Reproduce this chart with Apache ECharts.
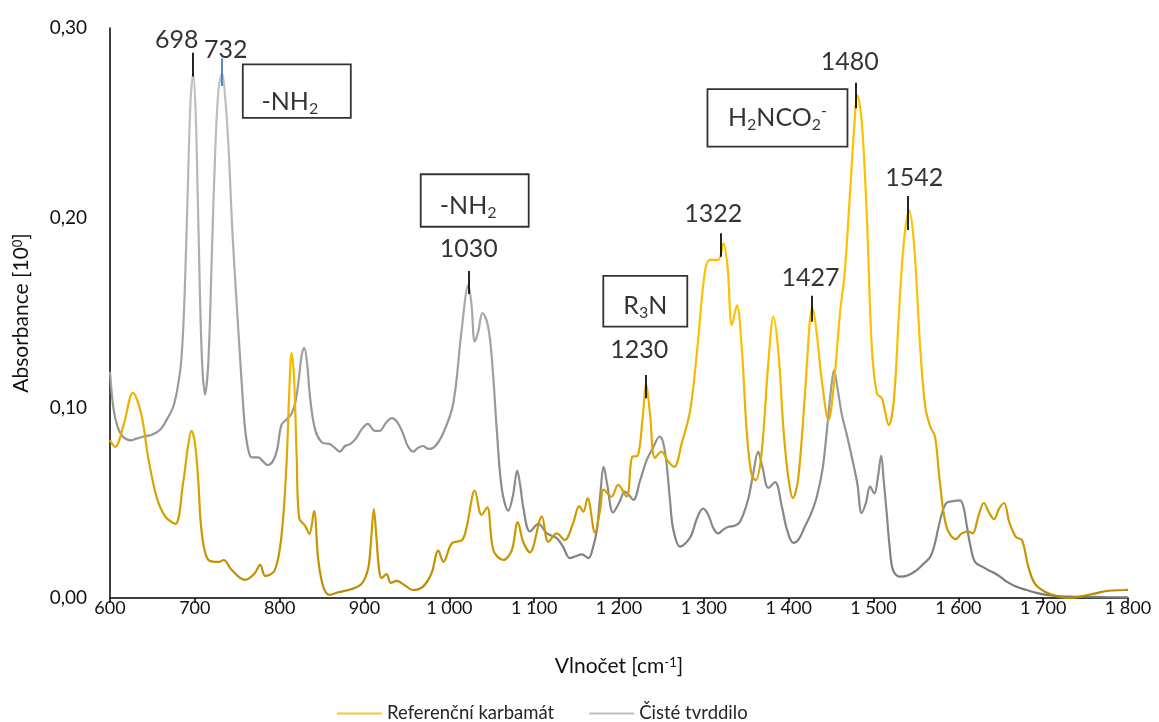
<!DOCTYPE html>
<html><head><meta charset="utf-8">
<script src="https://cdn.jsdelivr.net/npm/echarts@6/dist/echarts.min.js"></script>
<style>html,body{margin:0;padding:0;background:#fff}#c{width:1159px;height:722px}</style>
</head><body><div id="c"></div>
<script>
// ---- Data ----
const seriesNames = ['Referenční karbamát', 'Čisté tvrddilo'];

const refWavenumbers = [600,606,616,627,637,645,655,665,677,686,692,696,700,704,708,716,728,734,743,759,770,777,783,794,802,808,811,814,817,820,823,830,835,840.5,845.5,851.5,859,869,885,897,904.5,908,911,914,917,920,926,931,938,948,957,969,979,987,993,1003,1015,1020.5,1030,1038,1044.7,1052,1063.6,1073.5,1080.6,1087,1095,1109,1116.7,1126.6,1136,1146,1153,1158,1163,1171.7,1177.6,1182,1191,1199,1209,1215.7,1221.6,1228,1232,1236.5,1242.4,1250,1258,1265,1274,1284,1292,1301,1307,1317,1323,1328,1333,1339,1344.6,1350.5,1356,1361,1368,1376,1382,1388,1394,1400,1405,1411,1419,1425,1428,1433,1439,1447,1453,1460.5,1466,1472,1477,1481,1486,1492,1498,1504,1510,1518,1524,1530,1536,1542,1548,1555,1561,1567,1572.5,1578,1586,1597,1604,1612,1617,1623.5,1630,1636.5,1642,1648,1654,1660,1668,1675,1682.5,1690,1702,1716,1732,1747,1763,1775,1796,1800];
const refAbsorbance = [0.083,0.0795,0.091,0.108,0.0965,0.074,0.053,0.043,0.039,0.060,0.080,0.088,0.082,0.062,0.035,0.020,0.019,0.020,0.015,0.0095,0.0126,0.0174,0.0116,0.0144,0.032,0.070,0.105,0.129,0.115,0.075,0.042,0.038,0.0337,0.0458,0.020,0.0058,0.0016,0.003,0.0047,0.0077,0.016,0.032,0.0468,0.032,0.016,0.0105,0.0126,0.0079,0.009,0.0065,0.0042,0.006,0.013,0.025,0.019,0.0288,0.0305,0.0375,0.0565,0.0437,0.0477,0.025,0.020,0.025,0.040,0.0296,0.024,0.0428,0.0296,0.034,0.0305,0.0395,0.0484,0.0454,0.0526,0.0344,0.046,0.057,0.0533,0.0595,0.0533,0.0744,0.0747,0.0954,0.1126,0.097,0.0737,0.077,0.0718,0.069,0.0815,0.099,0.130,0.171,0.178,0.178,0.1867,0.174,0.1437,0.154,0.132,0.088,0.0656,0.062,0.076,0.1237,0.148,0.129,0.088,0.062,0.0526,0.062,0.106,0.146,0.1526,0.1395,0.1147,0.0937,0.111,0.150,0.171,0.211,0.246,0.2647,0.2516,0.2025,0.132,0.1077,0.105,0.091,0.104,0.150,0.1884,0.204,0.185,0.132,0.1007,0.090,0.085,0.062,0.0375,0.031,0.034,0.035,0.034,0.0428,0.050,0.0447,0.0415,0.047,0.050,0.040,0.032,0.0305,0.0165,0.0077,0.0033,0.001,0.0,0.001,0.0026,0.0037,0.0042,0.0043];

const hardWavenumbers = [600,604,609,615,624,632,640,650,660,667,674,679,684,688,692,695,698,701,704,708,712,716,720,724,728,732,736,740,744,750,755,759,763,767,775,780,786,792,797,802,808,814,819,823,826,829,832,836,841.6,849.5,859,865,871,877,883,890,897,904,912,918,925,932,938,945,951,957.5,963,969,975,981,993,1004.7,1014.5,1022.4,1026,1030,1034,1039,1044,1048,1052,1056,1062,1069.5,1075,1080,1084,1087,1095,1105,1115,1126.6,1134,1142,1149,1156,1164,1169,1174,1178,1182,1186,1193,1200,1207,1212,1217,1225,1232.6,1240,1248,1252,1256,1260,1264,1272,1284,1292,1299,1305,1311,1317,1323,1329,1336,1342.6,1352,1358,1364,1369,1376,1384,1392,1398,1405.5,1412,1419,1426,1433,1440,1445,1450,1453.5,1457,1462.5,1469,1476,1481,1486,1491,1496,1501,1505,1509,1512,1515.5,1519,1523,1531,1541,1551,1559,1567,1572,1576,1581,1586,1594,1602,1606,1610,1614,1619.6,1629.5,1636,1643,1650,1657,1668,1680.6,1692,1704,1720,1735,1760,1780,1800];
const hardAbsorbance = [0.119,0.100,0.090,0.085,0.083,0.084,0.085,0.086,0.089,0.094,0.100,0.109,0.125,0.160,0.220,0.262,0.276,0.255,0.200,0.130,0.107,0.125,0.180,0.235,0.268,0.276,0.262,0.235,0.195,0.150,0.115,0.090,0.078,0.074,0.074,0.072,0.070,0.072,0.078,0.091,0.094,0.097,0.104,0.117,0.128,0.1316,0.125,0.105,0.089,0.082,0.081,0.079,0.077,0.080,0.081,0.084,0.089,0.0916,0.088,0.088,0.092,0.0947,0.093,0.087,0.080,0.077,0.079,0.080,0.0785,0.079,0.087,0.1026,0.141,0.1647,0.155,0.135,0.140,0.150,0.146,0.136,0.115,0.088,0.057,0.046,0.054,0.067,0.058,0.048,0.035,0.039,0.034,0.0315,0.027,0.021,0.022,0.023,0.021,0.026,0.036,0.055,0.069,0.060,0.045,0.050,0.056,0.054,0.0516,0.062,0.0726,0.079,0.085,0.082,0.071,0.052,0.036,0.027,0.032,0.042,0.047,0.044,0.037,0.034,0.036,0.0375,0.038,0.040,0.0516,0.065,0.077,0.069,0.058,0.061,0.048,0.036,0.029,0.031,0.0375,0.044,0.053,0.068,0.088,0.110,0.120,0.112,0.097,0.085,0.071,0.060,0.0447,0.050,0.0586,0.055,0.063,0.075,0.062,0.045,0.027,0.0147,0.0112,0.012,0.0147,0.018,0.0217,0.028,0.036,0.045,0.050,0.051,0.0514,0.048,0.038,0.028,0.019,0.0162,0.0145,0.013,0.011,0.0086,0.006,0.0042,0.0027,0.0016,0.0009,0.0007,0.0006,0.0004,0.0003];

// axis ticks
const xMin = 600, xMax = 1800, xStep = 100;
const yMin = 0, yMax = 0.30, yStep = 0.10;

// annotations: peak numbers [text, wavenumber, absorbance]
const peakLabels = [['698',678.6,0.2937],['732',736.5,0.2885],['1030',1022.9,0.1837],['1230',1224,0.1303],['1322',1311,0.2021],['1427',1425.7,0.1687],['1480',1472,0.2821],['1542',1548,0.2213]];
// tick marks above peaks [wavenumber, from, to, colour]
const peakTicks = [[698,0.2745,0.287,'#000'],[732,0.2695,0.284,'#4472C4'],[1022.8,0.160,0.1721,'#000'],[1231.8,0.1051,0.1174,'#000'],[1319.9,0.1796,0.192,'#000'],[1426.7,0.1454,0.1591,'#000'],[1479.4,0.2577,0.2712,'#000'],[1539.9,0.1937,0.2116,'#000']];
// boxed group labels [rich text, wavenumber, absorbance]
const boxLabels = [['-NH{s|2}',820.2,0.2668],['-NH{s|2}',1029.9,0.2092],['R{s|3}N',1231,0.1562],['H{s|2}NCO{s|2}{p|-}',1386.8,0.2527]];

// ---- Chart ----
const FONT = 'Lato, "Open Sans", sans-serif';
const TXT = '#111';
const chart = echarts.init(document.getElementById('c'), null, {renderer:'canvas'});
const zip = (xs, ys) => xs.map((x, i) => [x, ys[i]]);
const fmtX = v => v >= 1000 ? Math.floor(v/1000) + ' ' + String(v % 1000).padStart(3, '0') : String(v);

const gridTop = 28, gridBottomPx = 598;
const yellowGrad = new echarts.graphic.LinearGradient(0, gridTop, 0, gridBottomPx, [
  {offset:0, color:'#FFC000'}, {offset:0.55, color:'#FFC000'}, {offset:1, color:'#B88A00'}], true);
const grayGrad = new echarts.graphic.LinearGradient(0, gridTop, 0, gridBottomPx, [
  {offset:0, color:'#C8C8C8'}, {offset:0.5, color:'#A8A8A8'}, {offset:1, color:'#7A7A7A'}], true);

const richStyles = {
  s: {fontSize:16, lineHeight:12, verticalAlign:'bottom', fontFamily:FONT, color:'#000'},
  p: {fontSize:16, lineHeight:14, verticalAlign:'top', fontFamily:FONT, color:'#000'}
};
const boxGeom = [ // [width, height, padTop, padRight]
  [108, 31, 22.5, 14], [108, 36, 16.5, 13], [84, 36, 14.8, 0], [140, 44, 13.5, 0]
];

const annData = [];
peakLabels.forEach(([t, x, y]) => annData.push({
  value:[x, y],
  label:{show:true, position:'inside', formatter:t, fontSize:25, fontFamily:FONT, color:'#000'}
}));
boxLabels.forEach(([t, x, y], i) => {
  const g = boxGeom[i];
  annData.push({
    value:[x, y],
    label:{show:true, position:'inside', formatter:t, fontSize:25, fontFamily:FONT, color:'#000',
      lineHeight:30, width:g[0] - g[3], height:g[1], padding:[g[2], g[3], 0, 0],
      borderColor:'#000', borderWidth:1.8, align:'center', rich:richStyles}
  });
});

const option = {
  animation:false,
  backgroundColor:'#fff',
  grid:{left:110, right:31, top:gridTop, bottom:722 - gridBottomPx, containLabel:false},
  xAxis:{
    type:'value', min:xMin, max:xMax, interval:xStep,
    name:'Vlnočet [cm{p|-1}]', nameLocation:'middle', nameGap:58,
    nameTextStyle:{fontSize:21, fontFamily:FONT, color:TXT,
      rich:{p:{fontSize:13, lineHeight:12, verticalAlign:'top', fontFamily:FONT, color:TXT}}},
    axisLine:{show:true, lineStyle:{color:'#000', width:1.5}},
    axisTick:{show:true, length:5, lineStyle:{color:'#000', width:1.5}},
    axisLabel:{formatter:fmtX, fontSize:18, fontFamily:FONT, color:TXT, margin:1},
    splitLine:{show:false}
  },
  yAxis:{
    type:'value', min:yMin, max:yMax, interval:yStep,
    name:'Absorbance [10{p|0}]', nameLocation:'middle', nameGap:78,
    nameTextStyle:{fontSize:21, fontFamily:FONT, color:TXT,
      rich:{p:{fontSize:13, lineHeight:12, verticalAlign:'top', fontFamily:FONT, color:TXT}}},
    axisLine:{show:true, lineStyle:{color:'#000', width:1.5}},
    axisTick:{show:false},
    axisLabel:{formatter:v => v.toFixed(2).replace('.', ','), fontSize:19, fontFamily:FONT, color:TXT, margin:23},
    splitLine:{show:false}
  },
  legend:{
    data:[{name:seriesNames[0], itemStyle:{color:'#F2C440'}}, {name:seriesNames[1], itemStyle:{color:'#BFBFBF'}}],
    left:332, top:699, icon:'rect', itemWidth:45, itemHeight:2, itemGap:35,
    textStyle:{fontSize:18.5, fontFamily:FONT, color:'#262626'}
  },
  series:[
    {name:seriesNames[1], type:'line', data:zip(hardWavenumbers, hardAbsorbance), showSymbol:false, smooth:0.35,
      lineStyle:{width:2.2, color:grayGrad}, itemStyle:{color:'#A6A6A6'}, z:2},
    {name:seriesNames[0], type:'line', data:zip(refWavenumbers, refAbsorbance), showSymbol:false, smooth:0.35,
      lineStyle:{width:2.2, color:yellowGrad}, itemStyle:{color:'#FFC000'}, z:3},
    {name:'annotations', type:'scatter', data:annData, symbolSize:0, silent:true, z:10,
      markLine:{silent:true, symbol:['none','none'], label:{show:false},
        data:peakTicks.map(([x, a, b, c]) => [{coord:[x, a], lineStyle:{color:c, width:1.7, type:'solid'}}, {coord:[x, b]}])}
    }
  ]
};
chart.setOption(option);
</script>
</body></html>
